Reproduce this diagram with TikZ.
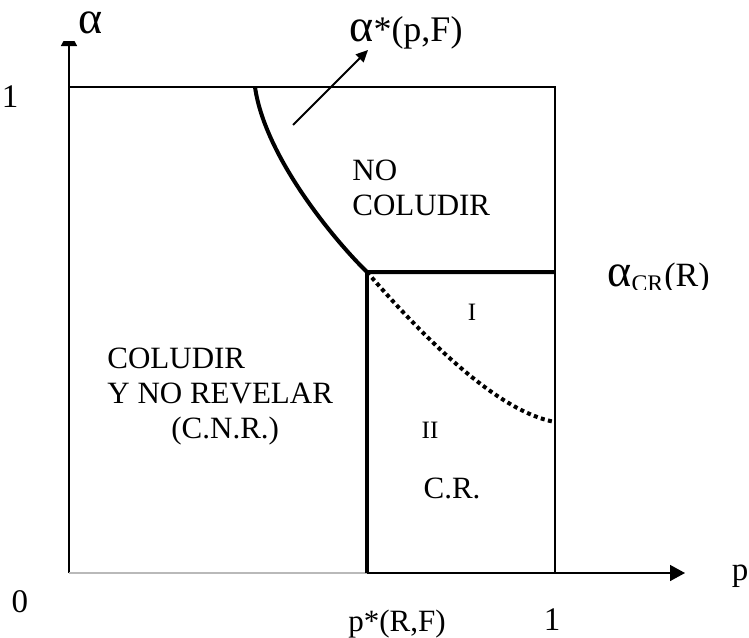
\documentclass[tikz,border=0pt]{standalone}
\usepackage{fontspec}
\setmainfont{Liberation Serif}
\usepackage{tikz}
\usetikzlibrary{arrows.meta}

\newcommand{\alf}{{\fontsize{23}{23}\selectfont α}}

\begin{document}
\begin{tikzpicture}[
  x=0.5pt, y=-0.5pt,
  lbl/.style={font=\fontsize{15.5}{17.5}\selectfont, inner sep=0pt},
  big/.style={font=\fontsize{16.5}{19}\selectfont, inner sep=0pt},
  small/.style={font=\fontsize{12.5}{14}\selectfont, inner sep=0pt},
  frame/.style={line width=0.75pt},
  border/.style={line width=2pt, line join=miter},
  dots/.style={line width=2pt, dash pattern=on 2pt off 1.7pt},
  axis/.style={line width=0.75pt, -{Triangle[length=7.5pt,width=8pt]}},
  pointer/.style={line width=1pt, -{Triangle[length=6pt,width=5.5pt]}}
]
  \useasboundingbox (0,0) rectangle (749,637);
  \coordinate (O) at (69,573);
  \coordinate (topL) at (69,87);
  \coordinate (topR) at (555,87);
  \coordinate (botR) at (555,573);
  \coordinate (pstar) at (367,573);
  \coordinate (kink) at (367,272);
  \coordinate (crR) at (555,272);
  \coordinate (curveTop) at (255,87);
  \coordinate (dotEnd) at (555,422);
  \coordinate (xTip) at (685,573);
  \coordinate (yTip) at (69,31);
  \coordinate (arrS) at (293,125);
  \coordinate (arrE) at (368,50);

  % axes and unit box
  \begin{scope}
    \clip (0,41) rectangle (749,637);
    \draw[axis] (O) -- (yTip);
  \end{scope}
  \draw[gray!55, line width=1.2pt] (O) -- (pstar);
  \draw[line width=1pt] (pstar) -- (botR);
  \draw[axis] (botR) -- (xTip);
  \draw[frame] (topL) -- (topR) -- (botR);

  % regions
  \draw[border] (curveTop) .. controls (265,158) and (337,243) .. (kink) -- (crR);
  \draw[border] (kink) -- (pstar);
  \draw[dots] (kink) .. controls (430,345) and (500,412) .. (dotEnd);
  \draw[pointer] (arrS) -- (arrE);

  % labels
  \node[big, anchor=base west] (alab) at (78,33) {\alf};
  \node[big] (oneY) at (10,97) {1};
  \node[big] (zero) at (20,602) {0};
  \node[big, anchor=base] (plab) at (740,580) {p};
  \node[lbl, anchor=base] (pstarlab) at (397,631) {p*(R,F)};
  \node[big, anchor=base] (oneX) at (552,630) {1};
  \node[big, font=\fontsize{18}{20}\selectfont, anchor=base west] (astar) at (349,41) {\alf*(p,F)};
  \begin{scope}
    \clip (590,240) rectangle (749,289);
    \node[big, font=\fontsize{17}{19}\selectfont, anchor=base west] (acr) at (607,286) {\alf\textsubscript{CR}(R)};
  \end{scope}
  \node[lbl, anchor=north west, align=left] (nocol) at (352,160) {NO\\COLUDIR};
  \node[lbl, anchor=north west, align=left] (cnr) at (107,348) {COLUDIR\\Y NO REVELAR\\\hspace*{32pt}(C.N.R.)};
  \node[small] (regI) at (472,312) {I};
  \node[small] (regII) at (430,430) {II};
  \node[lbl] (cr) at (452,488) {C.R.};
\end{tikzpicture}
\end{document}
